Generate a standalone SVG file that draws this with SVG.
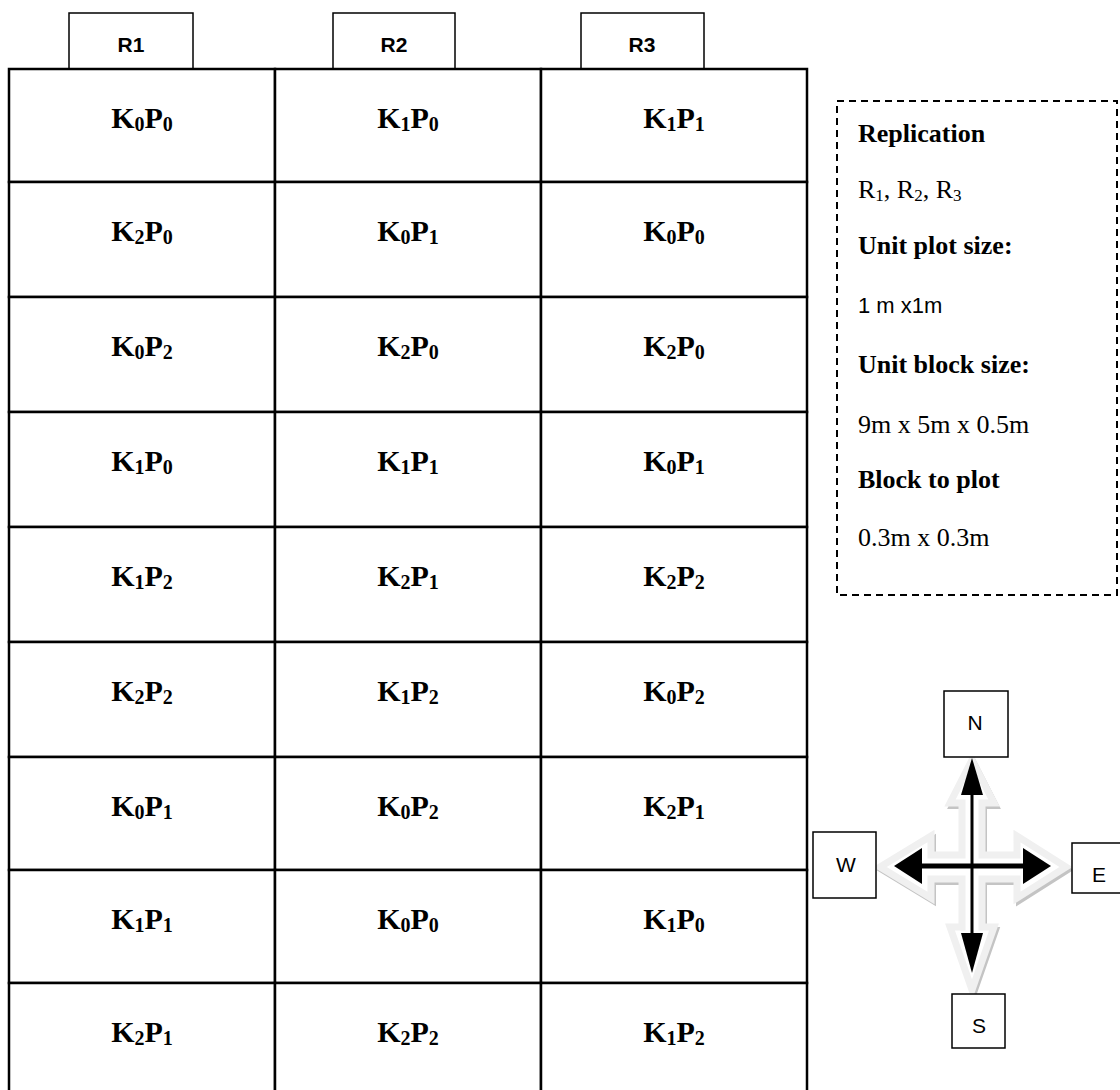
<svg xmlns="http://www.w3.org/2000/svg" width="1120" height="1090" viewBox="0 0 1120 1090">
<style>
.cell{fill:#fff;stroke:#000;stroke-width:2.5}
.hdr{fill:#fff;stroke:#000;stroke-width:1.5}
.lab{font-family:"Liberation Serif",serif;font-weight:bold;font-size:30px;text-anchor:middle;fill:#000}
.sub{font-size:20px}
.htxt{font-family:"Liberation Sans",sans-serif;font-weight:bold;font-size:21px;text-anchor:middle;fill:#000}
.lb{font-family:"Liberation Serif",serif;font-weight:bold;font-size:26px;fill:#000}
.lr{font-family:"Liberation Serif",serif;font-size:26px;fill:#000}
.ls{font-family:"Liberation Sans",sans-serif;font-size:22px;fill:#000}
.dir{fill:#fff;stroke:#000;stroke-width:1.5}
.dtxt{font-family:"Liberation Sans",sans-serif;font-size:21px;text-anchor:middle;fill:#000}
</style>
<rect width="1120" height="1090" fill="#fff"/>
<g id="headers">
<g id="R1"><rect class="hdr" x="69" y="13" width="124" height="56"/><text class="htxt" x="131" y="52">R1</text></g>
<g id="R2"><rect class="hdr" x="333" y="13" width="122" height="56"/><text class="htxt" x="394" y="52">R2</text></g>
<g id="R3"><rect class="hdr" x="581" y="13" width="123" height="56"/><text class="htxt" x="642" y="52">R3</text></g>
</g>
<g id="grid">
<g id="c1-1"><rect class="cell" x="9" y="69" width="266" height="113"/><text class="lab" x="142" y="128">K<tspan class="sub" dy="3">0</tspan><tspan dy="-3">P</tspan><tspan class="sub" dy="3">0</tspan></text></g>
<g id="c1-2"><rect class="cell" x="275" y="69" width="266" height="113"/><text class="lab" x="408" y="128">K<tspan class="sub" dy="3">1</tspan><tspan dy="-3">P</tspan><tspan class="sub" dy="3">0</tspan></text></g>
<g id="c1-3"><rect class="cell" x="541" y="69" width="266" height="113"/><text class="lab" x="674" y="128">K<tspan class="sub" dy="3">1</tspan><tspan dy="-3">P</tspan><tspan class="sub" dy="3">1</tspan></text></g>

<g id="c2-1"><rect class="cell" x="9" y="182" width="266" height="115"/><text class="lab" x="142" y="241">K<tspan class="sub" dy="3">2</tspan><tspan dy="-3">P</tspan><tspan class="sub" dy="3">0</tspan></text></g>
<g id="c2-2"><rect class="cell" x="275" y="182" width="266" height="115"/><text class="lab" x="408" y="241">K<tspan class="sub" dy="3">0</tspan><tspan dy="-3">P</tspan><tspan class="sub" dy="3">1</tspan></text></g>
<g id="c2-3"><rect class="cell" x="541" y="182" width="266" height="115"/><text class="lab" x="674" y="241">K<tspan class="sub" dy="3">0</tspan><tspan dy="-3">P</tspan><tspan class="sub" dy="3">0</tspan></text></g>

<g id="c3-1"><rect class="cell" x="9" y="297" width="266" height="115"/><text class="lab" x="142" y="356">K<tspan class="sub" dy="3">0</tspan><tspan dy="-3">P</tspan><tspan class="sub" dy="3">2</tspan></text></g>
<g id="c3-2"><rect class="cell" x="275" y="297" width="266" height="115"/><text class="lab" x="408" y="356">K<tspan class="sub" dy="3">2</tspan><tspan dy="-3">P</tspan><tspan class="sub" dy="3">0</tspan></text></g>
<g id="c3-3"><rect class="cell" x="541" y="297" width="266" height="115"/><text class="lab" x="674" y="356">K<tspan class="sub" dy="3">2</tspan><tspan dy="-3">P</tspan><tspan class="sub" dy="3">0</tspan></text></g>

<g id="c4-1"><rect class="cell" x="9" y="412" width="266" height="115"/><text class="lab" x="142" y="471">K<tspan class="sub" dy="3">1</tspan><tspan dy="-3">P</tspan><tspan class="sub" dy="3">0</tspan></text></g>
<g id="c4-2"><rect class="cell" x="275" y="412" width="266" height="115"/><text class="lab" x="408" y="471">K<tspan class="sub" dy="3">1</tspan><tspan dy="-3">P</tspan><tspan class="sub" dy="3">1</tspan></text></g>
<g id="c4-3"><rect class="cell" x="541" y="412" width="266" height="115"/><text class="lab" x="674" y="471">K<tspan class="sub" dy="3">0</tspan><tspan dy="-3">P</tspan><tspan class="sub" dy="3">1</tspan></text></g>

<g id="c5-1"><rect class="cell" x="9" y="527" width="266" height="115"/><text class="lab" x="142" y="586">K<tspan class="sub" dy="3">1</tspan><tspan dy="-3">P</tspan><tspan class="sub" dy="3">2</tspan></text></g>
<g id="c5-2"><rect class="cell" x="275" y="527" width="266" height="115"/><text class="lab" x="408" y="586">K<tspan class="sub" dy="3">2</tspan><tspan dy="-3">P</tspan><tspan class="sub" dy="3">1</tspan></text></g>
<g id="c5-3"><rect class="cell" x="541" y="527" width="266" height="115"/><text class="lab" x="674" y="586">K<tspan class="sub" dy="3">2</tspan><tspan dy="-3">P</tspan><tspan class="sub" dy="3">2</tspan></text></g>

<g id="c6-1"><rect class="cell" x="9" y="642" width="266" height="115"/><text class="lab" x="142" y="701">K<tspan class="sub" dy="3">2</tspan><tspan dy="-3">P</tspan><tspan class="sub" dy="3">2</tspan></text></g>
<g id="c6-2"><rect class="cell" x="275" y="642" width="266" height="115"/><text class="lab" x="408" y="701">K<tspan class="sub" dy="3">1</tspan><tspan dy="-3">P</tspan><tspan class="sub" dy="3">2</tspan></text></g>
<g id="c6-3"><rect class="cell" x="541" y="642" width="266" height="115"/><text class="lab" x="674" y="701">K<tspan class="sub" dy="3">0</tspan><tspan dy="-3">P</tspan><tspan class="sub" dy="3">2</tspan></text></g>

<g id="c7-1"><rect class="cell" x="9" y="757" width="266" height="113"/><text class="lab" x="142" y="816">K<tspan class="sub" dy="3">0</tspan><tspan dy="-3">P</tspan><tspan class="sub" dy="3">1</tspan></text></g>
<g id="c7-2"><rect class="cell" x="275" y="757" width="266" height="113"/><text class="lab" x="408" y="816">K<tspan class="sub" dy="3">0</tspan><tspan dy="-3">P</tspan><tspan class="sub" dy="3">2</tspan></text></g>
<g id="c7-3"><rect class="cell" x="541" y="757" width="266" height="113"/><text class="lab" x="674" y="816">K<tspan class="sub" dy="3">2</tspan><tspan dy="-3">P</tspan><tspan class="sub" dy="3">1</tspan></text></g>

<g id="c8-1"><rect class="cell" x="9" y="870" width="266" height="113"/><text class="lab" x="142" y="929">K<tspan class="sub" dy="3">1</tspan><tspan dy="-3">P</tspan><tspan class="sub" dy="3">1</tspan></text></g>
<g id="c8-2"><rect class="cell" x="275" y="870" width="266" height="113"/><text class="lab" x="408" y="929">K<tspan class="sub" dy="3">0</tspan><tspan dy="-3">P</tspan><tspan class="sub" dy="3">0</tspan></text></g>
<g id="c8-3"><rect class="cell" x="541" y="870" width="266" height="113"/><text class="lab" x="674" y="929">K<tspan class="sub" dy="3">1</tspan><tspan dy="-3">P</tspan><tspan class="sub" dy="3">0</tspan></text></g>

<g id="c9-1"><rect class="cell" x="9" y="983" width="266" height="115"/><text class="lab" x="142" y="1042">K<tspan class="sub" dy="3">2</tspan><tspan dy="-3">P</tspan><tspan class="sub" dy="3">1</tspan></text></g>
<g id="c9-2"><rect class="cell" x="275" y="983" width="266" height="115"/><text class="lab" x="408" y="1042">K<tspan class="sub" dy="3">2</tspan><tspan dy="-3">P</tspan><tspan class="sub" dy="3">2</tspan></text></g>
<g id="c9-3"><rect class="cell" x="541" y="983" width="266" height="115"/><text class="lab" x="674" y="1042">K<tspan class="sub" dy="3">1</tspan><tspan dy="-3">P</tspan><tspan class="sub" dy="3">2</tspan></text></g>
</g>
<g id="legend">
<rect x="837" y="101" width="280" height="494" fill="none" stroke="#000" stroke-width="2" stroke-dasharray="7 5"/>
<text class="lb" x="858" y="142">Replication</text>
<text class="lr" x="858" y="198">R<tspan font-size="17" dy="3">1</tspan><tspan dy="-3">, R</tspan><tspan font-size="17" dy="3">2</tspan><tspan dy="-3">, R</tspan><tspan font-size="17" dy="3">3</tspan></text>
<text class="lb" x="858" y="254">Unit plot size:</text>
<text class="ls" x="858" y="313">1 m x1m</text>
<text class="lb" x="858" y="373">Unit block size:</text>
<text class="lr" x="858" y="433">9m x 5m x 0.5m</text>
<text class="lb" x="858" y="488">Block to plot</text>
<text class="lr" x="858" y="546">0.3m x 0.3m</text>
</g>
<g id="compass">
<polygon points="972,760 994,803 982,803 982,855 1017,855 1017,836 1066,867 1017,898 1017,879 982,879 982,927 994,927 972,990 950,927 962,927 962,879 931,879 931,898 880,867 931,836 931,855 962,855 962,803 950,803" transform="translate(2,3)" fill="none" stroke="#c4c4c4" stroke-width="6" stroke-linejoin="miter"/>
<polygon points="972,760 994,803 982,803 982,855 1017,855 1017,836 1066,867 1017,898 1017,879 982,879 982,927 994,927 972,990 950,927 962,927 962,879 931,879 931,898 880,867 931,836 931,855 962,855 962,803 950,803" fill="#fff" stroke="#f0f0f0" stroke-width="7" stroke-linejoin="miter"/>
<g id="connectors">
<line x1="972" y1="790" x2="972" y2="940" stroke="#000" stroke-width="3"/>
<line x1="915" y1="866" x2="1030" y2="866" stroke="#000" stroke-width="5"/>
<polygon points="972,758 961,795 983,795" fill="#000"/>
<polygon points="972,973 961,933 983,933" fill="#000"/>
<polygon points="894,866 922,848 922,884" fill="#000"/>
<polygon points="1051,866 1023,848 1023,884" fill="#000"/>
</g>
<g id="N"><rect class="dir" x="944" y="691" width="64" height="66"/><text class="dtxt" x="975" y="730">N</text></g>
<g id="W"><rect class="dir" x="813" y="832" width="63" height="66"/><text class="dtxt" x="846" y="872">W</text></g>
<g id="E"><rect class="dir" x="1072" y="843" width="60" height="50"/><text class="dtxt" x="1099" y="882">E</text></g>
<g id="S"><rect class="dir" x="952" y="994" width="53" height="54"/><text class="dtxt" x="979" y="1033">S</text></g>
</g>
</svg>
